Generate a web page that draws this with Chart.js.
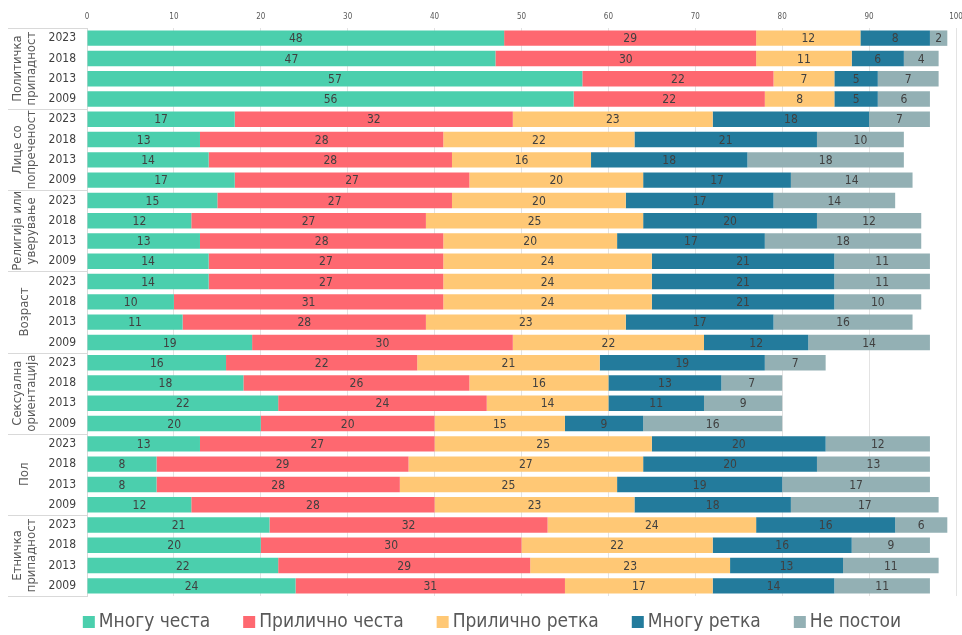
<!DOCTYPE html>
<html>
<head>
<meta charset="utf-8">
<script src="https://cdn.jsdelivr.net/npm/chart.js@4"></script>
<style>
  body { margin: 0; background: #fff; }
  #wrap { width: 962px; height: 635px; position: relative; }
</style>
</head>
<body>
<div id="wrap"><canvas id="chart"></canvas></div>
<script>
// groups, top to bottom, each with 4 survey years
var groups = [
    ["Политичка", "припадност"],
    ["Лице со", "попреченост"],
    ["Религија или", "уверување"],
    ["Возраст"],
    ["Сексуална", "ориентација"],
    ["Пол"],
    ["Етничка", "припадност"]
];
var years = ["2023", "2018", "2013", "2009"];

var seriesNames = ["Многу честа", "Прилично честа", "Прилично ретка", "Многу ретка", "Не постои"];
var seriesColors = ["#4bcfad", "#fe6870", "#ffc875", "#237b9c", "#93b0b4"];

var mnoguChesta = [48,47,57,56, 17,13,14,17, 15,12,13,14, 14,10,11,19, 16,18,22,20, 13,8,8,12, 21,20,22,24];
var prilichnoChesta = [29,30,22,22, 32,28,28,27, 27,27,28,27, 27,31,28,30, 22,26,24,20, 27,29,28,28, 32,30,29,31];
var prilichnoRetka = [12,11,7,8, 23,22,16,20, 20,25,20,24, 24,24,23,22, 21,16,14,15, 25,27,25,23, 24,22,23,17];
var mnoguRetka = [8,6,5,5, 18,21,18,17, 17,20,17,21, 21,21,17,12, 19,13,11,9, 20,20,19,18, 16,16,13,14];
var nePostoi = [2,4,7,6, 7,10,18,14, 14,12,18,11, 11,10,16,14, 7,7,9,16, 12,13,17,17, 6,9,11,11];

var allSeries = [mnoguChesta, prilichnoChesta, prilichnoRetka, mnoguRetka, nePostoi];

var rowLabels = [];
groups.forEach(function() {
    years.forEach(function(y) { rowLabels.push(y); });
});

var FONT = "'DejaVu Sans Condensed', 'DejaVu Sans', sans-serif";

// numbers in the middle of every segment
var valueLabels = {
    id: 'valueLabels',
    afterDatasetsDraw: function(chart) {
        var ctx = chart.ctx;
        ctx.save();
        ctx.font = "12px " + FONT;
        ctx.fillStyle = "#404040";
        ctx.textAlign = "center";
        ctx.textBaseline = "middle";
        chart.data.datasets.forEach(function(ds, i) {
            var meta = chart.getDatasetMeta(i);
            meta.data.forEach(function(el, j) {
                var v = ds.data[j];
                if (!v) return;
                ctx.fillText(v, (el.x + el.base) / 2, el.y + 1);
            });
        });
        ctx.restore();
    }
};

// rotated group names + separator lines on the left
var groupLabels = {
    id: 'groupLabels',
    afterDraw: function(chart) {
        var ctx = chart.ctx;
        var area = chart.chartArea;
        var step = (area.bottom - area.top) / rowLabels.length;
        ctx.save();
        ctx.strokeStyle = "#d9d9d9";
        ctx.lineWidth = 1;
        for (var g = 0; g <= groups.length; g++) {
            var yy = Math.round(area.top + g * 4 * step) + 0.5;
            ctx.beginPath();
            ctx.moveTo(8, yy);
            ctx.lineTo(area.left, yy);
            ctx.stroke();
        }
        ctx.font = "13px " + FONT;
        ctx.fillStyle = "#595959";
        ctx.textAlign = "center";
        ctx.textBaseline = "middle";
        groups.forEach(function(lines, g) {
            var mid = area.top + (g * 4 + 2) * step;
            ctx.save();
            ctx.translate(25, mid);
            ctx.rotate(-Math.PI / 2);
            var lh = 14;
            lines.forEach(function(t, k) {
                var off = (k - (lines.length - 1) / 2) * lh;
                ctx.fillText(t, 0, off);
            });
            ctx.restore();
        });
        ctx.restore();
    }
};

// legend row under the plot
var bottomLegend = {
    id: 'bottomLegend',
    afterDraw: function(chart) {
        var ctx = chart.ctx;
        ctx.save();
        ctx.font = "19px " + FONT;
        ctx.textBaseline = "middle";
        ctx.textAlign = "left";
        var box = 12, gap = 4, spacing = 33;
        var total = 0;
        chart.data.datasets.forEach(function(ds, i) {
            total += box + gap + ctx.measureText(ds.label).width;
            if (i > 0) total += spacing;
        });
        var x = 492 - total / 2;
        var y = 622;
        chart.data.datasets.forEach(function(ds) {
            ctx.fillStyle = ds.backgroundColor;
            ctx.fillRect(x, y - box / 2, box, box);
            x += box + gap;
            ctx.fillStyle = "#595959";
            ctx.fillText(ds.label, x, y);
            x += ctx.measureText(ds.label).width + spacing;
        });
        ctx.restore();
    }
};

var datasets = allSeries.map(function(arr, i) {
    return {
        label: seriesNames[i],
        data: arr,
        backgroundColor: seriesColors[i],
        borderWidth: 0,
        barPercentage: 0.76,
        categoryPercentage: 1.0
    };
});

var config = {
    type: 'bar',
    data: { labels: rowLabels, datasets: datasets },
    options: {
        indexAxis: 'y',
        responsive: true,
        maintainAspectRatio: false,
        animation: false,
        layout: { padding: { left: 0, right: 6, top: 0, bottom: 39 } },
        scales: {
            x: {
                position: 'top',
                stacked: true,
                min: 0,
                max: 100,
                ticks: { stepSize: 10, font: { size: 8, family: FONT }, color: "#595959", padding: 6 },
                grid: { color: "#e3e3e3", drawTicks: false },
                border: { display: false },
                afterFit: function(s) { s.height = 28; s.paddingRight = 0; s.paddingLeft = 0; }
            },
            y: {
                stacked: true,
                ticks: { font: { size: 12, family: FONT }, color: "#404040", padding: 11, autoSkip: false },
                grid: { display: false, drawTicks: false },
                border: { display: true, color: "#d9d9d9" },
                afterFit: function(s) { s.width = 87; }
            }
        },
        plugins: {
            legend: { display: false },
            tooltip: { enabled: false }
        }
    },
    plugins: [valueLabels, groupLabels, bottomLegend]
};

var ctx = document.getElementById("chart");
window.myChart = new Chart(ctx, config);
</script>
</body>
</html>
